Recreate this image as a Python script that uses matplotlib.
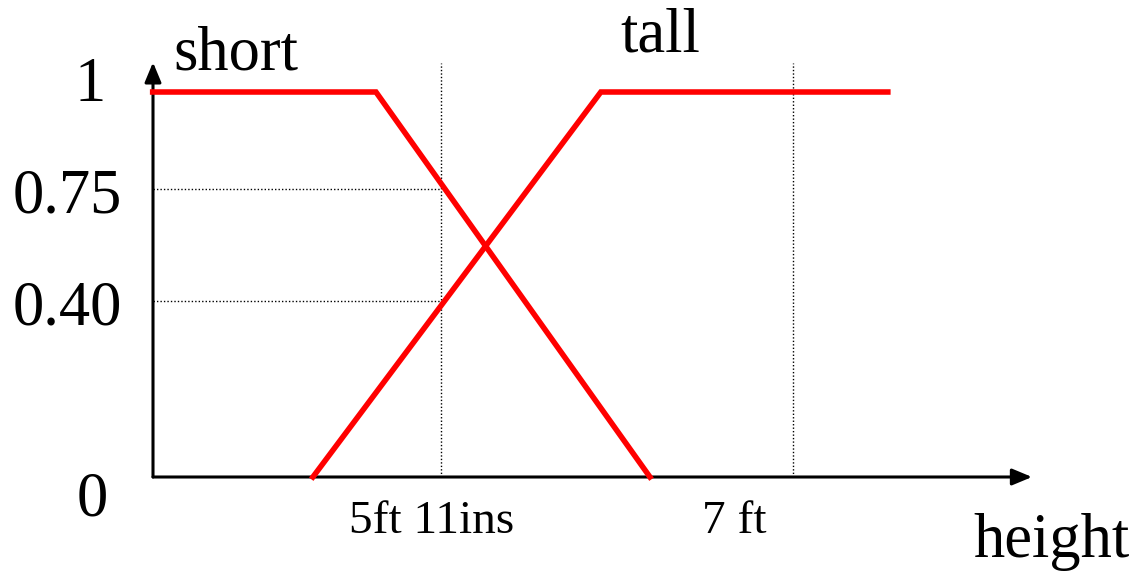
import matplotlib
matplotlib.use("Agg")
import matplotlib.pyplot as plt

# membership functions (x in feet, y = membership)
short_x = [5.03, 5.717, 6.560]
short_y = [1, 1, 0]
tall_x = [5.523, 6.409, 7.292]
tall_y = [0, 1, 1]

ref_x = [5.917, 7.0]           # 5ft 11ins and 7 ft
ref_labels = ["5ft 11ins", "7 ft"]
# dotted guide levels as drawn in the picture (labelled 0.75 and 0.40)
grade_y = [0.748, 0.457]
ytick_vals = [1, 0.748, 0.457, 0]
ytick_labels = ["1", "0.75", "0.40", "0"]

plt.rcParams['font.family'] = ['Liberation Serif', 'DejaVu Serif']

fig = plt.figure(figsize=(11.4, 5.78), dpi=100)
ax = fig.add_axes([0, 0, 1, 1])
k = 325.0   # pixels per foot
x0 = 5.031  # origin
ax.set_xlim(x0 - 153 / k, x0 + 987 / k)
ax.set_ylim(-101 / 385, 477 / 385)
ax.axis('off')

# axes with arrows
ax.annotate("", xy=(x0 + 879 / k, 0), xytext=(x0, 0),
            arrowprops=dict(arrowstyle="-|>,head_length=1.2,head_width=0.5", color="black", lw=2.2,
                            shrinkA=0, shrinkB=0))
ax.annotate("", xy=(x0, 1.077), xytext=(x0, 0),
            arrowprops=dict(arrowstyle="-|>,head_length=1.2,head_width=0.5", color="black", lw=2.2,
                            shrinkA=0, shrinkB=0))

# dotted reference lines
for xv in ref_x:
    ax.plot([xv, xv], [0, 1.075], color="black", lw=1, ls=(0, (1, 1.5)))
for yv in grade_y:
    ax.plot([x0, ref_x[0]], [yv, yv], color="black", lw=1, ls=(0, (1, 1.5)))

ax.plot(short_x, short_y, color="#ff0000", lw=4, solid_joinstyle="miter", zorder=3)
ax.plot(tall_x, tall_y, color="#ff0000", lw=4, solid_joinstyle="miter", zorder=3)

# y labels
ylab_x = [x0 - 63 / k, x0 - 86 / k, x0 - 86 / k, x0 - 61 / k]
ylab_off = [0.034, -0.005, -0.005, -0.044]
for xv, yv, off, lab in zip(ylab_x, ytick_vals, ylab_off, ytick_labels):
    ax.text(xv, yv + off, lab, fontsize=45, ha="center", va="center_baseline")

# x labels
ax.text(ref_x[0] - 9 / k, (477 - 533) / 385, ref_labels[0], fontsize=34, ha="center", va="baseline")
ax.text(ref_x[1] - 59 / k, (477 - 533) / 385, ref_labels[1], fontsize=34, ha="center", va="baseline")

ax.text(x0 + 20 / k, (477 - 70) / 385, "short", fontsize=45, ha="left", va="baseline")
ax.text(x0 + 467 / k, (477 - 52) / 385, "tall", fontsize=45, ha="left", va="baseline")
ax.text(x0 + 820 / k, (477 - 557) / 385, "height", fontsize=45, ha="left", va="baseline")

fig.savefig("out.png", dpi=100)
